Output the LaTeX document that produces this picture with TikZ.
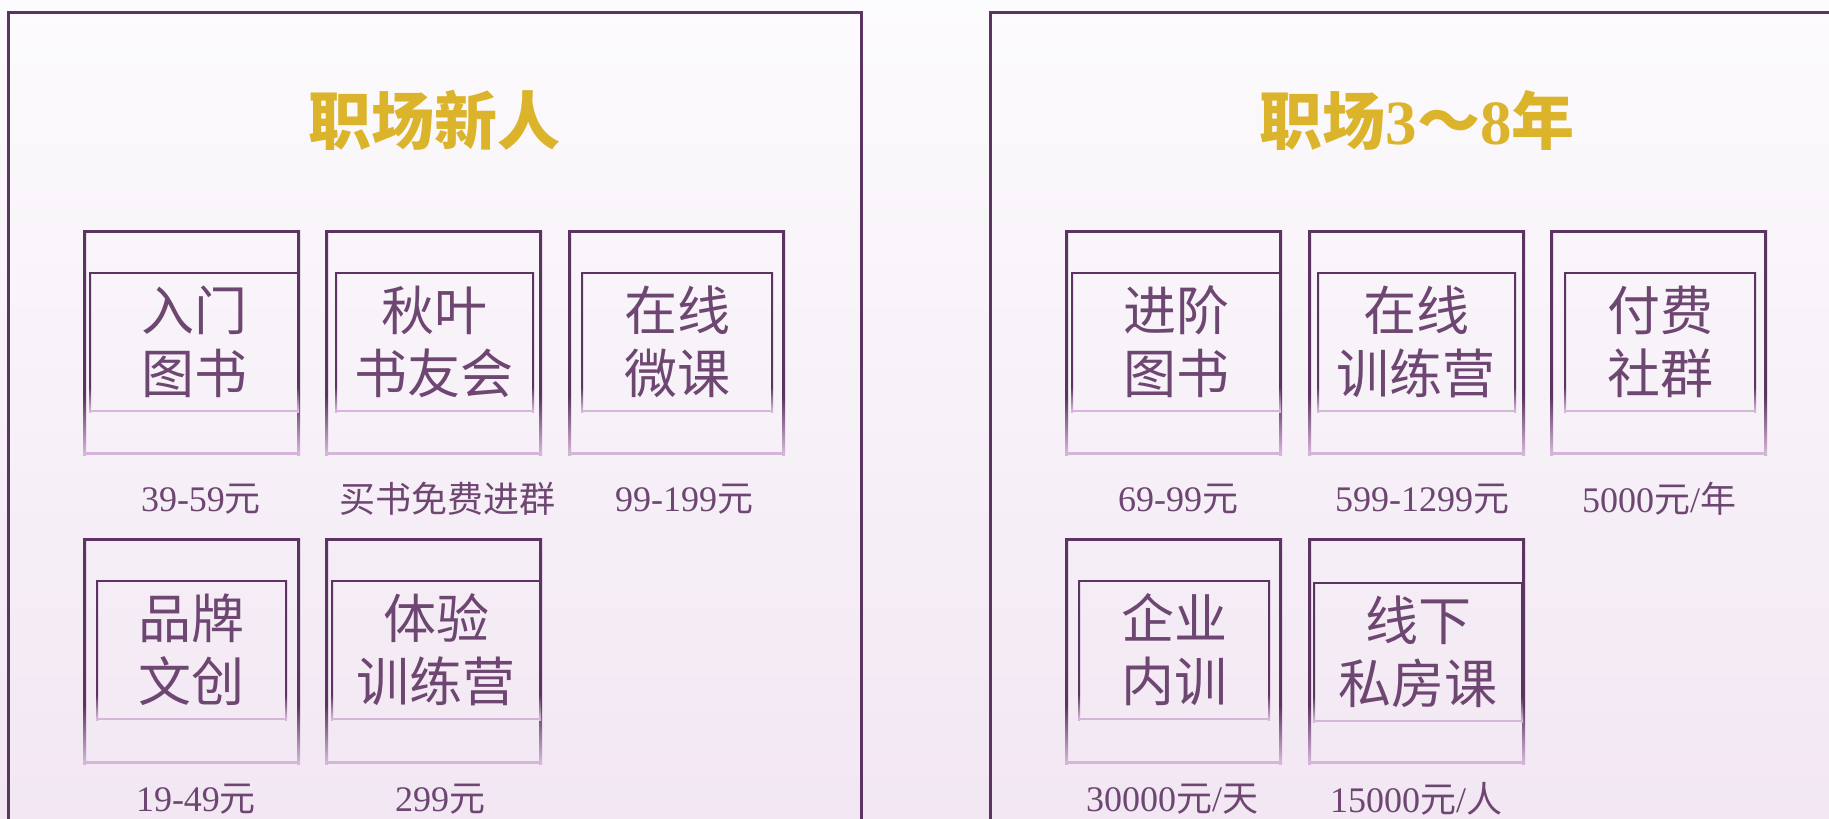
\documentclass[tikz,border=0pt]{standalone}
\usepackage{fontspec}
\newfontfamily\cjk{Noto Sans CJK SC}
\newfontfamily\lat{Liberation Serif}
\definecolor{dk}{HTML}{5C3461}
\definecolor{lt}{HTML}{D5B5D9}
\definecolor{txt}{HTML}{6E4672}
\definecolor{gold}{HTML}{DCB42C}
\definecolor{bgtop}{HTML}{FCFBFD}
\definecolor{bgbot}{HTML}{F2E7F3}
% the path's bounding box spans 25bp..75bp of these shadings
\pgfdeclareverticalshading{outerfr}{100bp}{color(0bp)=(lt); color(25.5bp)=(lt); color(38bp)=(dk); color(100bp)=(dk)}
\pgfdeclareverticalshading{innerfr}{100bp}{color(0bp)=(lt); color(25.5bp)=(lt); color(34bp)=(dk); color(100bp)=(dk)}
% frame: x1 y1 x2 y2 linewidth shading
\newcommand\frm[6]{%
  \shade[shading=#6] (#1,#2) rectangle (#1+#5,#4);
  \shade[shading=#6] (#3-#5,#2) rectangle (#3,#4);
  \fill[dk] (#1,#2) rectangle (#3,#2+#5);
  \fill[lt] (#1,#4-#5) rectangle (#3,#4);}
\tikzset{
  boxtext/.style={text=txt, align=center, font=\cjk\fontsize{53}{63}\selectfont, inner sep=0pt},
  price/.style={text=txt, font=\cjk\fontsize{36}{40}\selectfont, inner sep=0pt},
  title/.style={text=gold, font=\cjk\bfseries\fontsize{63}{70}\selectfont, inner sep=0pt},
  panel/.style={draw=dk, line width=3pt}
}
\begin{document}
\begin{tikzpicture}[x=1pt,y=-1pt]
\clip (0,0) rectangle (1829,819);
\shade[top color=bgtop, bottom color=bgbot] (0,0) rectangle (1829,819);
% panels
\draw[panel] (8,12) rectangle (861,840);
\draw[panel] (990,12) rectangle (1850,840);
\node[title] (t1) at (434,120) {职场新人};
\node[title] (t2) at (1417,120) {职场{\lat\bfseries 3}～{\lat\bfseries 8}年};
% row 1 outer frames
\frm{83}{230}{300}{455}{3}{outerfr}
\frm{325}{230}{542}{455}{3}{outerfr}
\frm{568}{230}{785}{455}{3}{outerfr}
\frm{1065}{230}{1282}{455}{3}{outerfr}
\frm{1308}{230}{1525}{455}{3}{outerfr}
\frm{1550}{230}{1767}{455}{3}{outerfr}
% row 2 outer frames
\frm{83}{538}{300}{764}{3}{outerfr}
\frm{325}{538}{542}{764}{3}{outerfr}
\frm{1065}{538}{1282}{764}{3}{outerfr}
\frm{1308}{538}{1525}{764}{3}{outerfr}
% inner frames row 1
\frm{89}{272}{299}{412}{2}{innerfr}
\frm{335}{272}{534}{412}{2}{innerfr}
\frm{581}{272}{773}{412}{2}{innerfr}
\frm{1071}{272}{1281}{412}{2}{innerfr}
\frm{1317}{272}{1516}{412}{2}{innerfr}
\frm{1564}{272}{1756}{412}{2}{innerfr}
% inner frames row 2
\frm{96}{580}{287}{720}{2}{innerfr}
\frm{331}{580}{541}{720}{2}{innerfr}
\frm{1078}{580}{1270}{720}{2}{innerfr}
\frm{1313}{582}{1523}{722}{2}{innerfr}
% box texts
\node[boxtext] (a1) at (194,342) {入门\\图书};
\node[boxtext] (b1) at (434,342) {秋叶\\书友会};
\node[boxtext] (c1) at (677,342) {在线\\微课};
\node[boxtext] (d1) at (1176,342) {进阶\\图书};
\node[boxtext] (e1) at (1416,342) {在线\\训练营};
\node[boxtext] (f1) at (1660,342) {付费\\社群};
\node[boxtext] (a2) at (191,650) {品牌\\文创};
\node[boxtext] (b2) at (436,650) {体验\\训练营};
\node[boxtext] (d2) at (1174,650) {企业\\内训};
\node[boxtext] (e2) at (1418,652) {线下\\私房课};
% prices
\node[price] (pa1) at (201,499) {{\lat 39-59}元};
\node[price] (pb1) at (447,499) {买书免费进群};
\node[price] (pc1) at (684,499) {{\lat 99-199}元};
\node[price] (pd1) at (1178,499) {{\lat 69-99}元};
\node[price] (pe1) at (1422,499) {{\lat 599-1299}元};
\node[price] (pf1) at (1659,499) {{\lat 5000}元{\lat /}年};
\node[price] (pa2) at (196,799) {{\lat 19-49}元};
\node[price] (pb2) at (440,799) {{\lat 299}元};
\node[price] (pd2) at (1172,799) {{\lat 30000}元{\lat /}天};
\node[price] (pe2) at (1416,799) {{\lat 15000}元{\lat /}人};
\end{tikzpicture}
\end{document}
